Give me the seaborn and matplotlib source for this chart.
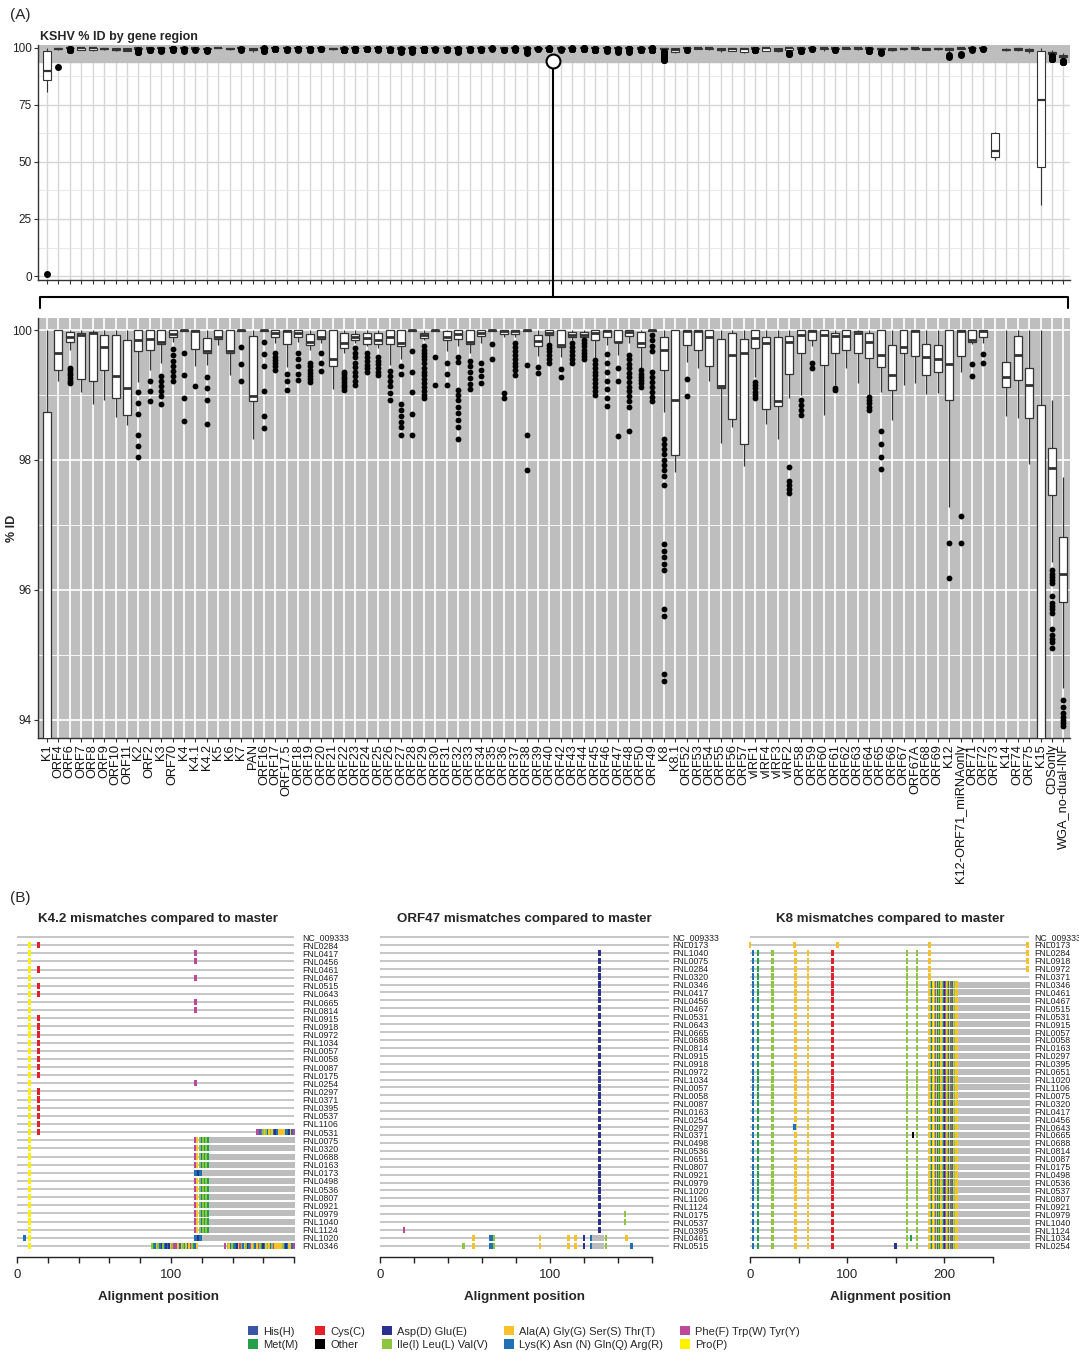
import numpy as np
import pandas as pd
import matplotlib
matplotlib.use("Agg")
import matplotlib.pyplot as plt
import seaborn as sns
from matplotlib.patches import Patch
from matplotlib.markers import MarkerStyle

# ---------------- Panel A data ----------------
REGIONS = ["K1", "ORF4", "ORF6", "ORF7", "ORF8", "ORF9", "ORF10", "ORF11", "K2", "ORF2",
           "K3", "ORF70", "K4", "K4.1", "K4.2", "K5", "K6", "K7", "PAN", "ORF16",
           "ORF17", "ORF17.5", "ORF18", "ORF19", "ORF20", "ORF21", "ORF22", "ORF23", "ORF24", "ORF25",
           "ORF26", "ORF27", "ORF28", "ORF29", "ORF30", "ORF31", "ORF32", "ORF33", "ORF34", "ORF35",
           "ORF36", "ORF37", "ORF38", "ORF39", "ORF40", "ORF42", "ORF43", "ORF44", "ORF45", "ORF46",
           "ORF47", "ORF48", "ORF50", "ORF49", "K8", "K8.1", "ORF52", "ORF53", "ORF54", "ORF55",
           "ORF56", "ORF57", "vIRF1", "vIRF4", "vIRF3", "vIRF2", "ORF58", "ORF59", "ORF60", "ORF61",
           "ORF62", "ORF63", "ORF64", "ORF65", "ORF66", "ORF67", "ORF67A", "ORF68", "ORF69", "K12",
           "K12-ORF71_miRNAonly", "ORF71", "ORF72", "ORF73", "K14", "ORF74", "ORF75", "K15", "CDSonly",
           "WGA_no-dual-INF"]

WHISK_LO = [80.7, 99.22, 99.69, 99.05, 98.86, 98.92, 98.66, 98.54, 99.2, 99.38,
            99.49, 99.82, 99.98, 99.44, 99.46, 99.77, 99.31, 99.99, 98.33, 99.98,
            99.8, 99.43, 99.82, 99.69, 99.8, 99.09, 99.64, 99.8, 99.75, 99.72,
            99.46, 99.55, 99.99, 99.84, 99.99, 99.67, 99.76, 99.64, 99.8, 99.99,
            99.9, 99.9, 99.99, 99.6, 99.8, 99.59, 99.84, 99.87, 99.56, 99.77,
            99.62, 99.8, 99.4, 99.99, 98.74, 97.82, 99.51, 99.41, 99.22, 98.26,
            98.51, 97.91, 99.28, 98.56, 98.33, 98.95, 99.0, 99.75, 98.69, 99.15,
            99.41, 99.18, 99.0, 99.04, 98.62, 99.15, 99.19, 99.02, 99.03, 97.28,
            99.35, 99.78, 99.8, 51.0, 98.67, 98.64, 97.94, 31.0, 96.43, 94.49]
Q1 = [86.0, 99.39, 99.82, 99.24, 99.22, 99.38, 98.96, 98.69, 99.68, 99.69,
      99.78, 99.9, 99.98, 99.71, 99.64, 99.86, 99.64, 99.99, 98.9, 99.98,
      99.89, 99.78, 99.9, 99.77, 99.86, 99.44, 99.73, 99.85, 99.79, 99.79,
      99.79, 99.75, 99.99, 99.87, 99.99, 99.84, 99.86, 99.78, 99.91, 99.99,
      99.94, 99.94, 99.99, 99.75, 99.92, 99.74, 99.9, 99.9, 99.84, 99.9,
      99.81, 99.91, 99.74, 99.99, 99.38, 98.08, 99.77, 99.7, 99.45, 99.1,
      98.63, 98.25, 99.72, 98.78, 98.83, 99.32, 99.64, 99.85, 99.46, 99.64,
      99.7, 99.65, 99.57, 99.43, 99.08, 99.65, 99.6, 99.3, 99.35, 98.92,
      99.6, 99.81, 99.89, 52.0, 99.13, 99.23, 98.64, 48.0, 97.46, 95.82]
MEDIAN = [90.0, 99.65, 99.9, 99.92, 99.95, 99.74, 99.29, 99.11, 99.85, 99.86,
          99.81, 99.94, 100.0, 99.98, 99.67, 99.89, 99.68, 100.0, 98.98, 100.0,
          99.95, 99.98, 99.96, 99.82, 99.9, 99.55, 99.8, 99.89, 99.88, 99.85,
          99.9, 99.8, 100.0, 99.92, 100.0, 99.9, 99.94, 99.82, 99.96, 100.0,
          99.99, 99.99, 100.0, 99.83, 99.96, 99.77, 99.93, 99.93, 99.95, 99.99,
          99.82, 99.97, 99.8, 100.0, 99.69, 98.93, 99.98, 99.98, 99.9, 99.14,
          99.62, 99.65, 99.87, 99.8, 98.9, 99.82, 99.92, 99.98, 99.92, 99.91,
          99.91, 99.95, 99.82, 99.62, 99.31, 99.74, 99.98, 99.58, 99.56, 99.48,
          99.98, 99.85, 99.98, 55.0, 99.28, 99.62, 99.15, 77.0, 97.87, 96.25]
Q3 = [98.74, 100.0, 99.97, 99.96, 99.97, 99.92, 99.92, 99.84, 100.0, 100.0,
      100.0, 100.0, 100.0, 100.0, 99.87, 100.0, 100.0, 100.0, 99.91, 100.0,
      100.0, 100.0, 100.0, 99.94, 100.0, 100.0, 99.96, 99.94, 99.96, 99.96,
      100.0, 100.0, 100.0, 99.96, 100.0, 99.98, 100.0, 100.0, 100.0, 100.0,
      100.0, 100.0, 100.0, 99.92, 100.0, 100.0, 99.97, 99.97, 100.0, 100.0,
      100.0, 100.0, 99.97, 100.0, 99.9, 100.0, 100.0, 100.0, 100.0, 99.86,
      99.96, 99.86, 100.0, 99.89, 99.89, 99.91, 100.0, 100.0, 100.0, 99.96,
      100.0, 99.99, 99.96, 100.0, 99.77, 100.0, 100.0, 99.78, 99.77, 100.0,
      100.0, 100.0, 100.0, 62.5, 99.51, 99.91, 99.41, 98.85, 98.19, 96.82]
WHISK_HI = [100.0] * 83 + [63.0] + [100.0] * 4 + [98.92, 97.74]

FLIERS = [
    [0.9], [91.7], [99.42, 99.38, 99.34, 99.3, 99.26, 99.22, 99.19], [], [], [], [], [],
    [99.05, 98.87, 98.7, 98.38, 98.22, 98.05], [99.22, 99.06, 98.9],
    [99.29, 99.22, 99.14, 99.06, 98.98, 98.86], [99.71, 99.62, 99.52, 99.45, 99.37, 99.29, 99.22],
    [99.65, 99.31, 98.95, 98.6], [99.14], [99.28, 99.1, 98.92, 98.56], [], [],
    [99.74, 99.47, 99.22], [], [99.81, 99.63, 99.44, 99.06, 98.68, 98.49],
    [99.64, 99.59, 99.54, 99.49, 99.44, 99.38], [99.33, 99.22, 99.08],
    [99.64, 99.55, 99.45, 99.33, 99.23], [99.49, 99.44, 99.39, 99.34, 99.29, 99.24, 99.2],
    [99.64, 99.5, 99.37], [], [99.36, 99.32, 99.28, 99.24, 99.2, 99.16, 99.12, 99.08],
    [99.72, 99.65, 99.58, 99.5, 99.43, 99.36, 99.29, 99.22, 99.15],
    [99.64, 99.58, 99.52, 99.46, 99.41, 99.36], [99.59, 99.53, 99.47, 99.41, 99.36, 99.31],
    [99.37, 99.29, 99.22, 99.14, 99.03, 98.92],
    [99.44, 99.32, 98.86, 98.77, 98.68, 98.59, 98.51, 98.39],
    [99.68, 99.36, 99.04, 98.71, 98.39],
    [99.75, 99.7, 99.65, 99.6, 99.55, 99.5, 99.42, 99.36, 99.3, 99.24, 99.18, 99.12, 99.06, 99.0, 98.95],
    [99.58, 99.15], [99.49, 99.32, 99.15],
    [99.59, 99.51, 99.08, 99.0, 98.92, 98.82, 98.72, 98.62, 98.51, 98.32],
    [99.53, 99.44, 99.35, 99.26, 99.17, 99.09], [99.5, 99.39, 99.29, 99.19], [99.78, 99.56],
    [99.03, 98.95], [99.8, 99.74, 99.68, 99.62, 99.56, 99.5, 99.44, 99.38, 99.31],
    [99.46, 98.38, 97.85], [99.43, 99.34], [99.77, 99.72, 99.67, 99.62, 99.56, 99.5],
    [99.4, 99.28], [99.8, 99.74, 99.68, 99.62, 99.56, 99.5],
    [99.85, 99.8, 99.75, 99.7, 99.65, 99.6, 99.55],
    [99.54, 99.48, 99.42, 99.36, 99.3, 99.24, 99.18, 99.12, 99.06, 99.0],
    [99.63, 99.5, 99.36, 99.22, 99.09, 98.96, 98.83], [99.41, 99.22, 98.37],
    [99.62, 99.55, 99.48, 99.41, 99.34, 99.27, 99.2, 99.13, 99.06, 98.98, 98.9, 98.82, 98.44],
    [99.38, 99.33, 99.28, 99.23, 99.18, 99.13],
    [99.92, 99.84, 99.76, 99.68, 99.36, 99.28, 99.2, 99.13, 99.05, 98.97, 98.9],
    [98.32, 98.25, 98.17, 98.09, 98.0, 97.92, 97.84, 97.76, 97.62, 96.7, 96.6, 96.5, 96.4,
     96.3, 95.7, 95.6, 94.7, 94.6],
    [], [99.24, 98.98], [], [], [], [], [],
    [99.2, 99.15, 99.1, 99.05, 99.0, 98.95], [], [], [97.89, 97.67, 97.61, 97.55, 97.49],
    [98.92, 98.85, 98.77, 98.69], [99.49, 99.41], [], [99.1, 99.07], [], [],
    [98.97, 98.92, 98.87, 98.82, 98.77], [98.44, 98.25, 98.05, 97.86], [], [], [], [], [],
    [96.72, 96.18], [97.14, 96.72], [99.47, 99.29], [99.63, 99.49], [], [], [], [], [],
    [96.3, 96.25, 96.2, 96.15, 96.1, 95.9, 95.8, 95.75, 95.7, 95.65, 95.4, 95.3, 95.25, 95.2, 95.1],
    [94.3, 94.2, 94.1, 94.05, 94.0, 93.95, 93.9],
]

# ---------------- Panel B data ----------------
K42_ROWS = ["NC_009333", "FNL0284", "FNL0417", "FNL0456", "FNL0461", "FNL0467", "FNL0515",
            "FNL0643", "FNL0665", "FNL0814", "FNL0915", "FNL0918", "FNL0972", "FNL1034",
            "FNL0057", "FNL0058", "FNL0087", "FNL0175", "FNL0254", "FNL0297", "FNL0371",
            "FNL0395", "FNL0537", "FNL1106", "FNL0531", "FNL0075", "FNL0320", "FNL0688",
            "FNL0163", "FNL0173", "FNL0498", "FNL0536", "FNL0807", "FNL0921", "FNL0979",
            "FNL1040", "FNL1124", "FNL1020", "FNL0346"]
K42_CYS_ROWS = ["FNL0284", "FNL0461", "FNL0515", "FNL0643", "FNL0915", "FNL0918", "FNL0972",
                "FNL1034", "FNL0057", "FNL0058", "FNL0087", "FNL0175", "FNL0297", "FNL0371",
                "FNL0395", "FNL0537", "FNL1106", "FNL0531"]
K42_PHE_ROWS = ["FNL0417", "FNL0456", "FNL0467", "FNL0665", "FNL0814", "FNL0254"]
K42_LONG_ROWS = ["FNL0075", "FNL0320", "FNL0688", "FNL0163", "FNL0498", "FNL0536", "FNL0807",
                 "FNL0921", "FNL0979", "FNL1040", "FNL1124"]
K42_SHORT_ROWS = ["FNL0173", "FNL1020"]
K42_POINTS = [(K42_ROWS[1:], 8, "P"), (K42_CYS_ROWS, 14, "C"), (K42_PHE_ROWS, 116, "F"),
              (["FNL1020"], 5, "K"), (["FNL0346"], 135, "F")]
K42_SEGMENTS = ([(r, 116, "FA.IKIMIM" + "-" * 56) for r in K42_LONG_ROWS]
                + [(r, 116, "KKDK" + "-" * 61) for r in K42_SHORT_ROWS]
                + [("FNL0531", 156, "FFKFIAIKAIAKDKAAAAAKKDAKF"),
                   ("FNL0346", 88, "IMKAIKDIKDKDAIFFFAKAIMAKAFIMKA"),
                   ("FNL0346", 137, "IAKIMKDAFIKAIDKFAIKAFIMDKAIAKIFAAAAAIKDKAAKF")])

ORF47_ROWS = ["NC_009333", "FNL0173", "FNL1040", "FNL0075", "FNL0284", "FNL0320", "FNL0346",
              "FNL0417", "FNL0456", "FNL0467", "FNL0531", "FNL0643", "FNL0665", "FNL0688",
              "FNL0814", "FNL0915", "FNL0918", "FNL0972", "FNL1034", "FNL0057", "FNL0058",
              "FNL0087", "FNL0163", "FNL0254", "FNL0297", "FNL0371", "FNL0498", "FNL0536",
              "FNL0651", "FNL0807", "FNL0921", "FNL0979", "FNL1020", "FNL1106", "FNL1124",
              "FNL0175", "FNL0537", "FNL0395", "FNL0461", "FNL0515"]
ORF47_PAIR = ["FNL0461", "FNL0515"]
ORF47_POINTS = [(ORF47_ROWS[2:38], 129, "D"), (["FNL0175", "FNL0537"], 144, "I"),
                (["FNL0395"], 14, "F"), (["FNL0515"], 49, "I"), (ORF47_PAIR, 55, "A"),
                (ORF47_PAIR, 94, "A"), (ORF47_PAIR, 111, "A"), (ORF47_PAIR, 115, "A"),
                (ORF47_PAIR, 120, "D"), (ORF47_PAIR, 124, "K"), (ORF47_PAIR, 133, "I"),
                (["FNL0461"], 145, "A"), (["FNL0515"], 148, "K")]
ORF47_SEGMENTS = [(r, 65, "KKI") for r in ORF47_PAIR] + [(r, 125, "-------") for r in ORF47_PAIR]

K8_ROWS = ["NC_009333", "FNL0173", "FNL0284", "FNL0918", "FNL0972", "FNL0371", "FNL0346",
           "FNL0461", "FNL0467", "FNL0515", "FNL0531", "FNL0915", "FNL0057", "FNL0058",
           "FNL0163", "FNL0297", "FNL0395", "FNL0651", "FNL1020", "FNL1106", "FNL0075",
           "FNL0320", "FNL0417", "FNL0456", "FNL0643", "FNL0665", "FNL0688", "FNL0814",
           "FNL0087", "FNL0175", "FNL0498", "FNL0536", "FNL0537", "FNL0807", "FNL0921",
           "FNL0979", "FNL1040", "FNL1124", "FNL1034", "FNL0254"]
K8_CORE = K8_ROWS[2:]
K8_POINTS = [(K8_CORE, 3, "K"), (K8_CORE, 8, "M"), (K8_CORE, 23, "I"), (K8_CORE, 47, "A"),
             (K8_CORE, 60, "A"), (K8_CORE, 85, "C"), (K8_CORE, 162, "I"), (K8_CORE, 172, "I"),
             (K8_CORE, 185, "A"), (["FNL0173"], 0, "A"), (["FNL0173"], 46, "A"),
             (["FNL0173"], 90, "A"), (["FNL0173"], 185, "A"),
             (["FNL0173", "FNL0284", "FNL0918", "FNL0972"], 286, "A"),
             (["FNL0643"], 46, "K"), (["FNL0665"], 168, "O"), (["FNL0254"], 150, "D"),
             (["FNL1034"], 166, "M")]
K8_SEGMENTS = [(r, 186, "AIKAPIFAKIMAAIKDFAIKAMIFKAIA" + "-" * 75) for r in K8_ROWS[6:]]

CLS_CODES = ["H", "M", "C", "O", "D", "I", "A", "K", "F", "P"]
CLS_LABELS = ["His(H)", "Met(M)", "Cys(C)", "Other", "Asp(D) Glu(E)", "Ile(I) Leu(L) Val(V)",
              "Ala(A) Gly(G) Ser(S) Thr(T)", "Lys(K) Asn (N) Gln(Q) Arg(R)",
              "Phe(F) Trp(W) Tyr(Y)", "Pro(P)"]
CLS_COLORS = ["#3A57A6", "#23A04A", "#E2202A", "#000000", "#2B318F", "#8CC63F",
              "#F8C02A", "#1F70B5", "#BC479B", "#FFF100"]

# ---------------- figure ----------------
sns.set_theme(style="white")
plt.rcParams["font.family"] = ["Liberation Sans", "DejaVu Sans"]

W, H = 1079, 1353
fig = plt.figure(figsize=(W / 100, H / 100), dpi=100)


def ax_px(x0, y0, x1, y1, **kw):
    return fig.add_axes([x0 / W, 1 - y1 / H, (x1 - x0) / W, (y1 - y0) / H], **kw)


stats = np.column_stack([WHISK_LO, Q1, MEDIAN, Q3, WHISK_HI])
box_df = pd.DataFrame({"region": np.repeat(REGIONS, 5), "pct": stats.ravel()})
flier_df = pd.DataFrame([(r, v) for r, fl in zip(REGIONS, FLIERS) for v in fl],
                        columns=["region", "pct"])
DARK = "#333333"


def draw_boxes(ax, lw, msize, med_lw):
    sns.boxplot(data=box_df, x="region", y="pct", order=REGIONS, whis=(0, 100),
                showfliers=False, showcaps=False, width=0.7, color="white", linecolor=DARK,
                linewidth=lw, medianprops=dict(color=DARK, linewidth=med_lw), ax=ax, zorder=3)
    sns.stripplot(data=flier_df, x="region", y="pct", order=REGIONS, jitter=False,
                  color="black", size=msize, linewidth=0, ax=ax, zorder=4)
    ax.set_xlim(-0.79, 89.58)
    ax.set_xticks(range(len(REGIONS)))
    ax.set_xlabel("")
    ax.set_ylabel("")
    ax.set_axisbelow(True)
    for s in ["top", "right"]:
        ax.spines[s].set_visible(False)
    for s in ["left", "bottom"]:
        ax.spines[s].set_color(DARK)
        ax.spines[s].set_linewidth(1.0)
    ax.tick_params(axis="both", which="major", length=3, width=0.8, color=DARK,
                   labelcolor="#222222", labelsize=8.5, pad=1.5, bottom=True, left=True)
    ax.tick_params(axis="y", which="minor", length=0)


# top overview panel
ax1 = ax_px(38, 45, 1070, 280)
ax1.set_facecolor("white")
ax1.axhspan(93.7, 101.3, color="#BEBEBE", zorder=1)
draw_boxes(ax1, lw=0.8, msize=5.0, med_lw=1.6)
ax1.set_ylim(-1.75, 101.3)
ax1.set_yticks([0, 25, 50, 75, 100])
ax1.set_yticks([12.5, 37.5, 62.5, 87.5], minor=True)
ax1.set_xticklabels([])
ax1.grid(which="major", color="#D6D6D6", linewidth=1.0)
ax1.grid(which="minor", axis="y", color="#E4E4E4", linewidth=0.6)

# zoomed panel
ax2 = ax_px(38, 318, 1070, 738)
ax2.set_facecolor("#BEBEBE")
draw_boxes(ax2, lw=0.9, msize=4.2, med_lw=2.0)
ax2.set_ylim(93.72, 100.185)
ax2.set_yticks([94, 96, 98, 100])
ax2.set_yticks([95, 97, 99], minor=True)
ax2.set_xticklabels(REGIONS, rotation=90, fontsize=9.2, color="#111111")
ax2.grid(which="major", color="white", linewidth=1.2)
ax2.grid(which="minor", axis="y", color="white", linewidth=0.6)
ax2.set_ylabel("% ID", fontweight="bold", fontsize=9)
ax2.yaxis.set_label_coords(-0.0195, 0.5)

fig.text(40 / W, 1 - 37 / H, "KSHV % ID by gene region", fontsize=9, fontweight="bold",
         ha="left", va="center")

# ---------------- panel B ----------------
RECT = MarkerStyle([(-0.4, -1), (0.4, -1), (0.4, 1), (-0.4, 1), (-0.4, -1)])
MS = 20
palette = dict(zip(CLS_CODES, CLS_COLORS))


def build_df(rows, points, segments):
    recs = []
    for names, pos, code in points:
        for n in names:
            recs.append((n, pos, code))
    for name, start, codes in segments:
        for k, c in enumerate(codes):
            if c != ".":
                recs.append((name, start + k, c))
    df = pd.DataFrame(recs, columns=["sample", "pos", "cls"])
    df["row"] = df["sample"].map({n: i for i, n in enumerate(rows)})
    return df


def draw_mismatch(px_box, rows, df, line_end, x0px, ppp, y0px, step, ticks, labels,
                  title, title_x):
    x0, y0, x1, y1 = px_box
    ax = ax_px(x0, y0, x1, y1)
    ax.patch.set_alpha(0)
    n = len(rows)
    ax.hlines(range(n), 0, line_end, color="#C6C6C6", linewidth=1.4, zorder=1)
    gap = df[df["cls"] == "-"]
    marks = df[df["cls"] != "-"]
    if len(gap):
        sns.scatterplot(data=gap, x="pos", y="row", color="#BDBDBD", marker=RECT, s=MS,
                        linewidth=0, ax=ax, zorder=2, legend=False)
    sns.scatterplot(data=marks, x="pos", y="row", hue="cls", palette=palette, marker=RECT,
                    s=MS, linewidth=0, ax=ax, zorder=3, legend=False)
    ax.set_xlim((x0 - x0px) / ppp, (x1 - x0px) / ppp)
    ax.set_ylim((y1 - y0px) / step, (y0 - y0px) / step)
    ax.set_yticks(range(n))
    ax.set_yticklabels(rows, fontsize=6.3, color="#222222")
    ax.yaxis.tick_right()
    ax.tick_params(axis="y", length=0, pad=1.5)
    ax.set_xticks(ticks)
    ax.set_xticklabels(labels, fontsize=9.5)
    ax.tick_params(axis="x", length=4, width=1.0, color="#222222", pad=5, bottom=True)
    for s in ["top", "right", "left"]:
        ax.spines[s].set_visible(False)
    ax.spines["bottom"].set_color("#222222")
    ax.spines["bottom"].set_linewidth(1.0)
    ax.spines["bottom"].set_bounds(ticks[0], ticks[-1])
    ax.set_xlabel("")
    ax.set_ylabel("")
    ax.grid(False)
    fig.text(title_x / W, 1 - 919 / H, title, fontsize=9.6, fontweight="bold",
             ha="center", va="center")
    fig.text(title_x / W, 1 - 1297 / H, "Alignment position", fontsize=9.6,
             fontweight="bold", ha="center", va="center")
    return ax


k42_df = build_df(K42_ROWS, K42_POINTS, K42_SEGMENTS)
orf47_df = build_df(ORF47_ROWS, ORF47_POINTS, ORF47_SEGMENTS)
k8_df = build_df(K8_ROWS, K8_POINTS, K8_SEGMENTS)

t20 = list(range(0, 181, 20))
draw_mismatch((10, 930, 300, 1257), K42_ROWS, k42_df, 180, 17, 1.54, 937, 8.13,
              t20, ["0" if t == 0 else "100" if t == 100 else "" for t in t20],
              "K4.2 mismatches compared to master", 158)
t20b = list(range(0, 161, 20))
draw_mismatch((373, 930, 670, 1257), ORF47_ROWS, orf47_df, 170, 380, 1.70, 937, 7.92,
              t20b, ["0" if t == 0 else "100" if t == 100 else "" for t in t20b],
              "ORF47 mismatches compared to master", 524)
t50 = list(range(0, 251, 50))
draw_mismatch((745, 930, 1032, 1257), K8_ROWS, k8_df, 288, 750, 0.97, 937, 7.92,
              t50, ["0" if t == 0 else "100" if t == 100 else "200" if t == 200 else "" for t in t50],
              "K8 mismatches compared to master", 890)

handles = [Patch(facecolor=c, edgecolor="none") for c in CLS_COLORS]
fig.legend(handles, CLS_LABELS, ncol=5, loc="center", bbox_to_anchor=(524 / W, 1 - 1338 / H),
           frameon=False, fontsize=8, handlelength=0.9, handleheight=0.9, handletextpad=0.45,
           columnspacing=1.5, labelspacing=0.25)

# ---------------- annotations (zoom bracket and panel letters) ----------------
ov = fig.add_axes([0, 0, 1, 1], zorder=20)
ov.set_xlim(0, W)
ov.set_ylim(H, 0)
ov.axis("off")
ov.patch.set_alpha(0)
ov.plot([40, 40, 1068, 1068], [308, 297, 297, 308], color="black", linewidth=1.5,
        solid_joinstyle="round")
ov.plot([553, 553], [66, 297], color="black", linewidth=1.5)
ov.plot([553], [61], marker="o", markersize=10, markerfacecolor="white",
        markeredgecolor="black", markeredgewidth=1.5)
ov.text(10, 15, "(A)", fontsize=11, ha="left", va="center")
ov.text(10, 898, "(B)", fontsize=11, ha="left", va="center")

fig.savefig("out.png", dpi=100)
